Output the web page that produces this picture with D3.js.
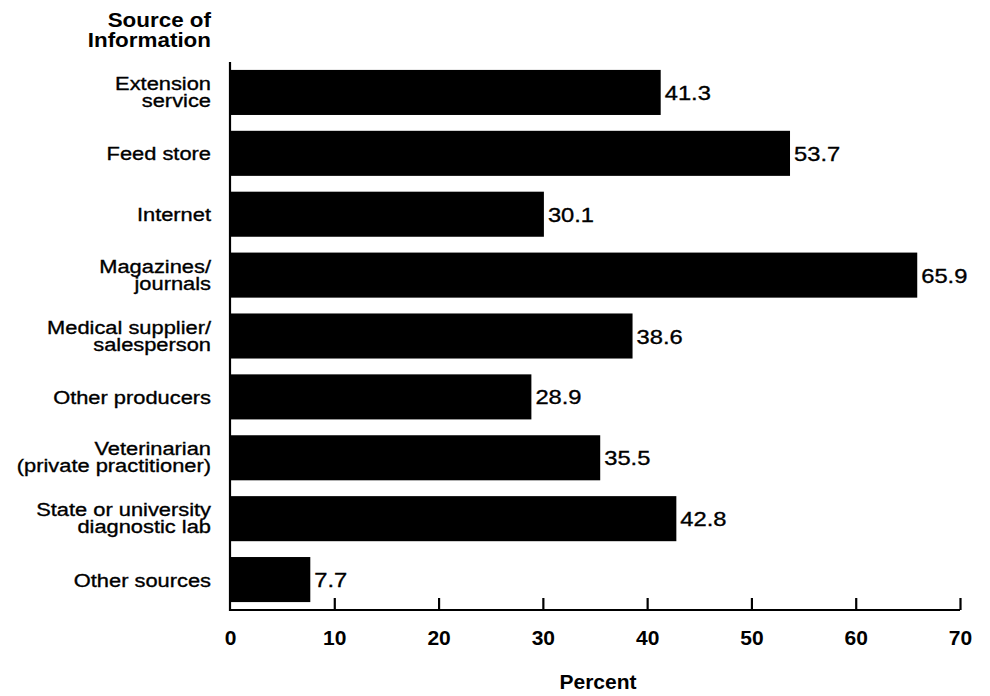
<!DOCTYPE html>
<html>
<head>
<meta charset="utf-8">
<script src="https://cdn.jsdelivr.net/npm/d3@7"></script>
<style>
  html, body { margin: 0; padding: 0; background: #fff; }
  svg { display: block; font-family: "Liberation Sans", Arial, Helvetica, sans-serif; }
</style>
</head>
<body>
<svg id="chart" width="990" height="696"></svg>
<script>
const categories = [
  ["Extension", "service"],
  ["Feed store"],
  ["Internet"],
  ["Magazines/", "journals"],
  ["Medical supplier/", "salesperson"],
  ["Other producers"],
  ["Veterinarian", "(private practitioner)"],
  ["State or university", "diagnostic lab"],
  ["Other sources"]
];
const values = [41.3, 53.7, 30.1, 65.9, 38.6, 28.9, 35.5, 42.8, 7.7];
const xTicks = [0, 10, 20, 30, 40, 50, 60, 70];
const titleLines = ["Source of", "Information"];
const xTitle = "Percent";

(function () {
const svg = d3.select("#chart");
const mLeft = 230, mRight = 960, mTop = 62, mBottom = 610;
const stretch = 1.15;

const x = d3.scaleLinear().domain([0, 70]).range([mLeft, mRight]);
const y = d3.scaleBand()
  .domain(categories.map((d, i) => i))
  .range([mTop, mBottom])
  .paddingInner(0.26)
  .paddingOuter(0.13);

// bars
svg.append("g").selectAll("rect")
  .data(values)
  .join("rect")
  .attr("x", x(0))
  .attr("y", (d, i) => y(i))
  .attr("width", d => x(d) - x(0))
  .attr("height", y.bandwidth())
  .attr("fill", "#000");

// value labels
svg.append("g").selectAll("g")
  .data(values)
  .join("g")
  .attr("transform", (d, i) => `translate(${x(d) + 4}, ${y(i) + y.bandwidth() / 2}) scale(1.13,1)`)
  .append("text")
  .attr("x", 0)
  .attr("y", 0)
  .attr("dy", "0.36em")
  .attr("font-size", 21)
  .attr("fill", "#000")
  .attr("stroke", "#000")
  .attr("stroke-width", 0.35)
  .text(d => d.toFixed(1));

// category labels (one text element per category, lines as tspans)
const catT = svg.append("g").selectAll("text")
  .data(categories)
  .join("text")
  .attr("transform", (d, i) => `translate(211, ${y(i) + y.bandwidth() / 2}) scale(${stretch},1)`)
  .attr("text-anchor", "end")
  .attr("font-size", 19)
  .attr("fill", "#000")
  .attr("stroke", "#000")
  .attr("stroke-width", 0.35);
catT.each(function (lines) {
  const t = d3.select(this);
  const n = lines.length;
  lines.forEach((ln, j) => {
    const base = n === 1 ? 7 : (j === 0 ? -2.5 : 14.5);
    t.append("tspan")
      .attr("x", 0)
      .attr("y", base)
      .text(ln);
  });
});

// x axis
const xAxis = d3.axisBottom(x)
  .tickValues(xTicks)
  .tickSize(-12)
  .tickPadding(0)
  .tickFormat(d3.format("d"));
const gx = svg.append("g").attr("transform", `translate(0, ${mBottom})`).call(xAxis);
gx.select(".domain").attr("stroke", "#000").attr("stroke-width", 2.2)
  .attr("d", `M${mLeft},0H${mRight}`);
gx.selectAll(".tick line").attr("stroke", "#000").attr("stroke-width", 2.2)
  .filter(d => d === 0).remove();
gx.selectAll(".tick text")
  .attr("y", 35)
  .attr("dy", 0)
  .attr("font-size", 21)
  .attr("font-weight", "bold")
  .attr("font-family", "'Liberation Sans', Arial, sans-serif")
  .attr("fill", "#000");

// y axis line
const yAxis = d3.axisLeft(y).tickValues([]).tickSizeOuter(0);
const gy = svg.append("g").attr("transform", `translate(${mLeft}, 0)`).call(yAxis);
gy.select(".domain").attr("stroke", "#000").attr("stroke-width", 2.2)
  .attr("d", `M0,${mTop}V${mBottom + 1}`);

// axis title
svg.append("text")
  .attr("x", 598)
  .attr("y", 689)
  .attr("text-anchor", "middle")
  .attr("font-size", 21)
  .attr("font-weight", "bold")
  .attr("fill", "#000")
  .text(xTitle);

// y title
const tg = svg.append("text")
  .attr("transform", `translate(211, 0) scale(${stretch},1)`)
  .attr("text-anchor", "end")
  .attr("font-size", 19.5)
  .attr("font-weight", "bold")
  .attr("fill", "#000");
titleLines.forEach((ln, j) => {
  tg.append("tspan")
    .attr("x", 0)
    .attr("y", 27.5 + j * 19.5)
    .text(ln);
});
})();
</script>
</body>
</html>
